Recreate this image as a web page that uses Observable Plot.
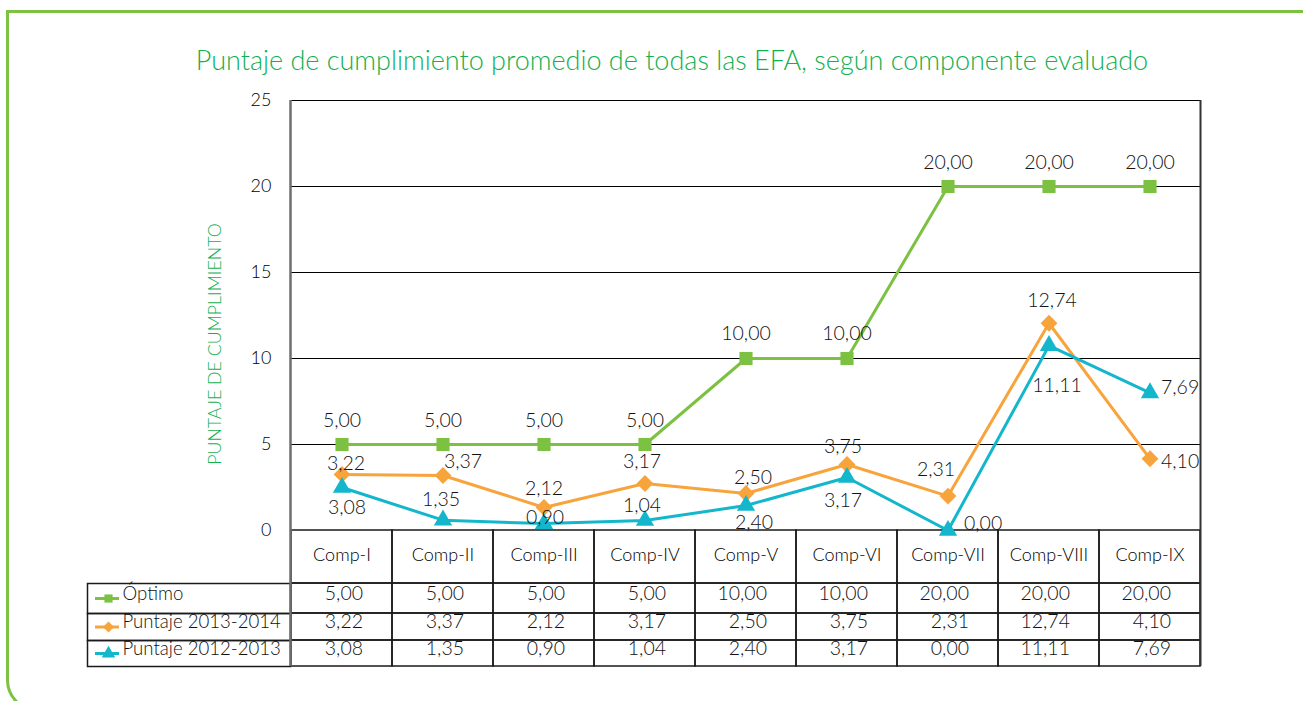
<!DOCTYPE html>
<html><head><meta charset="utf-8">
<script src="https://cdn.jsdelivr.net/npm/d3@7"></script>
<script src="https://cdn.jsdelivr.net/npm/@observablehq/plot@0.6"></script>
<style>
html,body{margin:0;padding:0;background:#fff;overflow:hidden;}
#page{position:relative;width:1303px;height:701px;overflow:hidden;font-family:Lato,sans-serif;font-weight:300;}
#border{position:absolute;left:6px;top:10px;width:1400px;height:702px;border:3px solid #7dc242;border-radius:0 0 0 32px;box-sizing:border-box;}
#title{position:absolute;left:0;top:44px;width:1344px;text-align:center;color:#12b04e;font-size:27px;line-height:32px;white-space:nowrap;}
#ylabel{position:absolute;left:214px;top:344px;transform:translate(-50%,-50%) rotate(-90deg);color:#12b04e;font-size:17.8px;white-space:nowrap;line-height:20px;}
#chart{position:absolute;left:0;top:80px;}
</style></head>
<body><div id="page"><div id="border"></div>
<div id="title">Puntaje de cumplimiento promedio de todas las EFA, según componente evaluado</div>
<div id="chart"></div>
<div id="ylabel">PUNTAJE DE CUMPLIMIENTO</div></div>
<script>
// ---- data ----
const categories = ["Comp-I","Comp-II","Comp-III","Comp-IV","Comp-V","Comp-VI","Comp-VII","Comp-VIII","Comp-IX"];
const seriesNames = ["Óptimo","Puntaje 2013-2014","Puntaje 2012-2013"];
// values as drawn in the picture
const optimo      = [5, 5, 5, 5, 10, 10, 20, 20, 20];
const puntaje2013 = [3.26, 3.2, 1.34, 2.73, 2.15, 3.84, 2.0, 12.05, 4.17];
const puntaje2012 = [2.5, 0.6, 0.4, 0.58, 1.45, 3.08, 0, 10.75, 8.0];
// labels as printed
const optimoLabels = ["5,00","5,00","5,00","5,00","10,00","10,00","20,00","20,00","20,00"];
const p2013Labels  = ["3,22","3,37","2,12","3,17","2,50","3,75","2,31","12,74","4,10"];
const p2012Labels  = ["3,08","1,35","0,90","1,04","2,40","3,17","0,00","11,11","7,69"];
const yTicks = [0, 5, 10, 15, 20, 25];

// ---- layout / style ----
const W = 1303, H = 621, MT = 20, ML = 290, MR = 103, MB = 171;
const PW = W - ML - MR, PH = H - MT - MB;
const rowEdges = [0, 53, 83, 110, 136];
const LW = 203;
const FW = 300;
const styles = [
  {color: "#7cc142", symbol: "square",   r: 7.4, lr: 4.6},
  {color: "#f8a43d", symbol: "diamond2", r: 7.6, lr: 5},
  {color: "#14b6cc", symbol: "triangle", r: 6.8, lr: 5}
];
const optOff  = [[0,-24],[0,-24],[0,-24],[0,-24],[0,-25],[0,-25],[0,-24],[0,-24],[0,-24]];
const o13Off  = [[4,-11],[20,-14],[0,-19],[-3,-22],[7,-16],[-4,-18],[-12,-26],[3,-22],[11,3,"start"]];
const o12Off  = [[5,20],[-2,-20],[1,-6],[-3,-15],[8,17],[-4,23],[16,-7,"start"],[8,40],[11,-5,"start"]];

const values = [optimo, puntaje2013, puntaje2012];
const labels = [optimoLabels, p2013Labels, p2012Labels];
const offs = [optOff, o13Off, o12Off];
const TXT = "#111";
const LINE = "#1a1a1a";

const marks = [];
marks.push(Plot.ruleY([5,10,15,20], {stroke: "#000", strokeWidth: 1}));
marks.push(Plot.ruleY([25], {stroke: "#000", strokeWidth: 1.2}));
// header row cells
marks.push(Plot.cell(categories, {x: d => d, fill: "none", stroke: LINE, strokeWidth: 1.5, insetTop: PH, insetBottom: -rowEdges[1]}));
for (let r = 0; r < 3; r++) {
  const top = rowEdges[r+1], bot = rowEdges[r+2], mid = (top + bot) / 2;
  marks.push(Plot.cell(categories, {x: d => d, fill: "none", stroke: LINE, strokeWidth: 1.5, insetTop: PH + top, insetBottom: -bot}));
  marks.push(Plot.frame({stroke: LINE, strokeWidth: 1.5, insetLeft: -LW, insetRight: PW, insetTop: PH + top, insetBottom: -bot}));
  marks.push(Plot.text(labels[r], {x: (d, i) => categories[i], text: d => d, frameAnchor: "bottom", dy: mid + 1, dx: 21, textAnchor: "end", fontSize: 19.5, fontWeight: FW, fill: TXT}));
  // legend swatch
  marks.push(Plot.ruleY([0], {stroke: styles[r].color, strokeWidth: 3, insetLeft: -(ML - 95), insetRight: PW + (ML - 119), dy: mid}));
  marks.push(Plot.dot([0], {y: d => d, frameAnchor: "left", dx: 108 - ML, dy: mid, symbol: styles[r].symbol, r: styles[r].lr, fill: styles[r].color, stroke: "none"}));
  marks.push(Plot.text([seriesNames[r]], {text: d => d, frameAnchor: "bottom-left", dx: 122 - ML, dy: mid + 1, textAnchor: "start", fontSize: 18.6, fontWeight: FW, fill: TXT}));
}
// axis side lines
marks.push(Plot.ruleX([0], {x: null, dx: -PW / 2, insetBottom: -rowEdges[4], stroke: "#6e6e6e", strokeWidth: 2.5}));
marks.push(Plot.ruleX([0], {x: null, dx: PW / 2, insetBottom: -rowEdges[4], stroke: "#333", strokeWidth: 2}));
// series
for (let s = 0; s < 3; s++) {
  marks.push(Plot.line(categories, {x: d => d, y: (d, i) => values[s][i], stroke: styles[s].color, strokeWidth: 3}));
}
for (let s = 0; s < 3; s++) {
  marks.push(Plot.dot(categories, {x: d => d, y: (d, i) => values[s][i], symbol: styles[s].symbol, r: styles[s].r, fill: styles[s].color, stroke: "none"}));
}
for (let s = 0; s < 3; s++) {
  categories.forEach((c, i) => {
    const [dx, dy, anchor] = offs[s][i];
    marks.push(Plot.text([{c, v: values[s][i], t: labels[s][i]}], {x: "c", y: "v", text: "t", dx, dy, textAnchor: anchor || "middle", fontSize: 19.5, fontWeight: FW, fill: TXT}));
  });
}

const chart = Plot.plot({
  width: W, height: H, marginTop: MT, marginLeft: ML, marginRight: MR, marginBottom: MB,
  x: {type: "band", domain: categories, padding: 0, tickSize: 0, tickPadding: 18, label: null},
  y: {domain: [0, 25], ticks: yTicks, tickSize: 0, tickPadding: 19, label: null},
  style: {fontFamily: "Lato, sans-serif", fontSize: "18px", fontWeight: FW, color: "#000", background: "transparent"},
  marks
});
document.getElementById("chart").appendChild(chart);
</script></body></html>
